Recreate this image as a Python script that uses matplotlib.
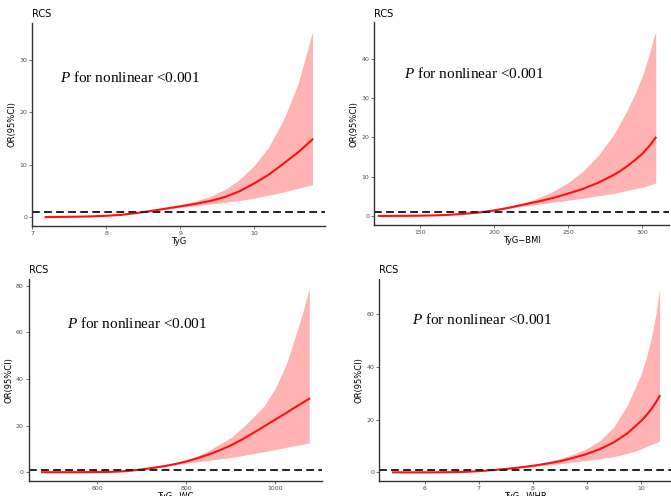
import matplotlib
matplotlib.use("Agg")
import matplotlib.pyplot as plt

plt.rcParams['mathtext.fontset'] = 'custom'
plt.rcParams['mathtext.it'] = 'Liberation Serif:italic'
plt.rcParams['mathtext.rm'] = 'Liberation Serif'

# TyG
x1 = [7.18, 7.4, 7.6, 7.8, 8.0, 8.2, 8.4, 8.6, 8.8, 9.0, 9.2, 9.4, 9.6, 9.8, 10.0, 10.2, 10.4, 10.6, 10.79]
m1 = [0.0, 0.03, 0.07, 0.13, 0.25, 0.42, 0.75, 1.15, 1.6, 2.05, 2.5, 3.05, 3.8, 4.9, 6.4, 8.1, 10.2, 12.4, 14.8]
lo1 = [0.0, 0.03, 0.07, 0.13, 0.25, 0.41, 0.72, 1.1, 1.5, 1.85, 2.15, 2.45, 2.8, 3.15, 3.6, 4.2, 4.8, 5.5, 6.2]
up1 = [0.0, 0.03, 0.07, 0.13, 0.25, 0.43, 0.78, 1.2, 1.7, 2.35, 3.0, 3.9, 5.2, 7.1, 9.8, 13.4, 18.6, 25.6, 35.3]

# TyG-BMI
x2 = [122, 130, 140, 150, 160, 170, 180, 190, 200, 210, 220, 230, 240, 250, 260, 270, 280, 285, 290, 295, 300, 305, 309]
m2 = [0.0, 0.01, 0.03, 0.07, 0.15, 0.3, 0.55, 0.9, 1.4, 2.1, 2.9, 3.7, 4.6, 5.7, 6.9, 8.4, 10.3, 11.4, 12.7, 14.2, 15.8, 17.9, 19.9]
lo2 = [0.0, 0.01, 0.03, 0.07, 0.15, 0.3, 0.54, 0.88, 1.3, 1.9, 2.5, 3.0, 3.5, 4.0, 4.5, 5.1, 5.7, 6.1, 6.5, 6.9, 7.3, 7.9, 8.4]
up2 = [0.0, 0.01, 0.03, 0.07, 0.15, 0.3, 0.56, 0.92, 1.5, 2.3, 3.3, 4.6, 6.3, 8.5, 11.4, 15.3, 20.3, 23.5, 27.0, 31.0, 35.5, 41.5, 47.0]

# TyG-WC
x3 = [476, 525, 575, 625, 650, 675, 700, 725, 750, 775, 800, 825, 850, 875, 900, 925, 950, 975, 1000, 1025, 1050, 1063, 1076]
m3 = [0.0, 0.0, 0.02, 0.12, 0.3, 0.65, 1.2, 1.85, 2.6, 3.5, 4.6, 6.0, 7.6, 9.4, 11.5, 14.0, 16.8, 19.7, 22.6, 25.5, 28.5, 30.0, 31.5]
lo3 = [0.0, 0.0, 0.02, 0.12, 0.3, 0.62, 1.1, 1.65, 2.3, 3.1, 3.9, 4.5, 5.1, 5.7, 6.3, 7.1, 8.0, 8.8, 9.7, 10.7, 11.6, 12.1, 12.6]
up3 = [0.0, 0.0, 0.02, 0.12, 0.3, 0.68, 1.3, 2.05, 2.9, 3.95, 5.2, 7.0, 9.3, 12.0, 14.8, 19.0, 23.5, 28.5, 36.1, 46.5, 61.5, 69.5, 79.0]

# TyG-WHR
x4 = [5.41, 5.75, 6.0, 6.25, 6.5, 6.75, 7.0, 7.25, 7.5, 7.75, 8.0, 8.25, 8.5, 8.75, 9.0, 9.25, 9.5, 9.75, 10.0, 10.1, 10.2, 10.28, 10.35]
m4 = [0.0, 0.0, 0.01, 0.03, 0.08, 0.2, 0.45, 0.85, 1.3, 1.85, 2.5, 3.3, 4.2, 5.5, 7.0, 8.9, 11.4, 14.8, 19.4, 21.6, 24.2, 26.6, 29.0]
lo4 = [0.0, 0.0, 0.01, 0.03, 0.08, 0.2, 0.43, 0.8, 1.2, 1.65, 2.1, 2.7, 3.3, 3.9, 4.5, 5.2, 6.0, 7.2, 8.8, 9.8, 10.6, 11.3, 12.0]
up4 = [0.0, 0.0, 0.01, 0.03, 0.08, 0.2, 0.47, 0.9, 1.4, 2.0, 2.8, 3.9, 5.2, 6.9, 9.0, 12.2, 17.3, 25.5, 37.0, 43.5, 51.5, 60.0, 70.0]

paneles = [
    # datos, etiqueta, xlim, ylim, xticks, yticks, caja en pixeles (izq, der, arriba, abajo), texto (x, y) en pixeles
    ((x1, m1, lo1, up1), "TyG", (7, 10.96), (-1.7, 37), [7, 8, 9, 10], [0, 10, 20, 30],
     (32.3, 325, 23, 226), (60, 78)),
    ((x2, m2, lo2, up2), "TyG\u2212BMI", (119, 318), (-2.3, 49.2), [150, 200, 250, 300], [0, 10, 20, 30, 40],
     (374.3, 669, 22.3, 225), (404, 73.3)),
    ((x3, m3, lo3, up3), "TyG\u2212WC", (446, 1104), (-3.9, 83), [600, 800, 1000], [0, 20, 40, 60, 80],
     (28.7, 321.7, 278.7, 481.3), (66.7, 323)),
    ((x4, m4, lo4, up4), "TyG\u2212WHR", (5.154, 10.56), (-3.4, 73.6), [6, 7, 8, 9, 10], [0, 20, 40, 60],
     (379.3, 671, 278.7, 481.3), (412, 319)),
]

W, H = 671, 496
fig = plt.figure(figsize=(W / 100, H / 100), dpi=100)

for (xs, ms, los, ups), etiqueta, xl, yl, xt, yt, caja, txt in paneles:
    izq, der, arr, aba = caja
    ax = fig.add_axes([izq / W, 1 - aba / H, (der - izq) / W, (aba - arr) / H])
    ax.fill_between(xs, los, ups, color="#FFB3B3", lw=0)
    ax.plot(xs, ms, color="#FF1010", lw=1.5)
    ax.axhline(1, color="#222222", lw=1.4, ls=(0, (4, 2.2)))
    ax.set_xlim(*xl)
    ax.set_ylim(*yl)
    ax.set_xticks(xt)
    ax.set_yticks(yt)
    for s in ["top", "right"]:
        ax.spines[s].set_visible(False)
    for s in ["left", "bottom"]:
        ax.spines[s].set_color("#333333")
        ax.spines[s].set_linewidth(1.0)
    ax.tick_params(length=2, width=0.6, color="#555555", labelcolor="#4D4D4D",
                   labelsize=4.5, pad=1.5)
    ax.set_xlabel(etiqueta, fontsize=6, labelpad=0.5)
    ax.set_ylabel("OR(95%CI)", fontsize=6, labelpad=2)
    ax.set_title("RCS", loc="left", fontsize=7, pad=4)
    fig.text(txt[0] / W, 1 - txt[1] / H, r"$\it{P}$ for nonlinear <0.001",
             fontsize=11, family="Liberation Serif", va="center", ha="left")

fig.savefig("out.png", dpi=100)
